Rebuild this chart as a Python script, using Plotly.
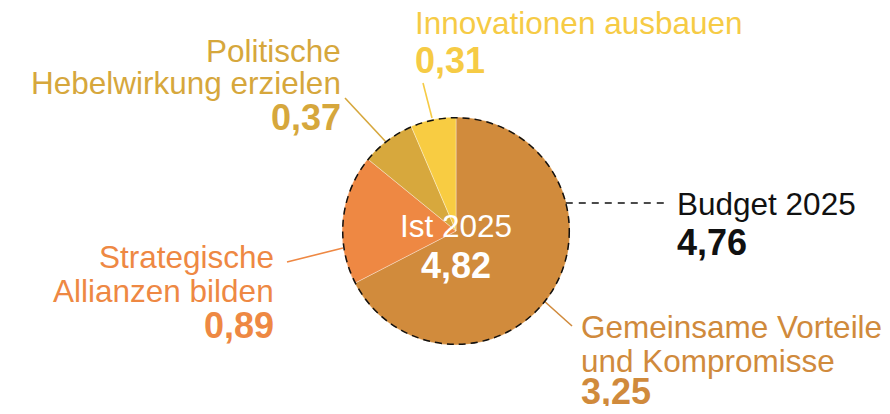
import math
import plotly.graph_objects as go

# ---- data ----
categories = ["Gemeinsame Vorteile<br>und Kompromisse", "Strategische<br>Allianzen bilden",
              "Politische<br>Hebelwirkung erzielen", "Innovationen ausbauen"]
values = [3.25, 0.89, 0.37, 0.31]
value_labels = ["3,25", "0,89", "0,37", "0,31"]
colors = ["#D18B3C", "#EE8843", "#D7A83D", "#F8CC42"]
text_colors = ["#D08A3C", "#EE8843", "#D6A73C", "#F6CB45"]
ist_label = "Ist 2025"
ist_value_label = "4,82"
budget_label = "Budget 2025"
budget_value = 4.76
budget_value_label = "4,76"

# page has an 8px body margin: figure sized to fit the 890x414 window
OX, OY = 8, 8
W, H = 882, 398
CX, CY, R = 456, 231, 114          # in window pixels
LABEL_FS = 31.5
VALUE_FS = 36
FONT = "Liberation Sans, Arial, Helvetica, sans-serif"


def px(x):
    return (x - OX) / W


def py(y):
    return 1 - (y - OY) / H


fig = go.Figure()
fig.add_trace(go.Pie(
    labels=[c.replace("<br>", " ") for c in categories],
    values=values,
    sort=False,
    direction="clockwise",
    rotation=0,
    marker=dict(colors=colors, line=dict(color="rgba(255,255,255,0.35)", width=1)),
    textinfo="none",
    textposition="none",
    hoverinfo="label+value",
    showlegend=False,
    domain=dict(x=[px(CX - R), px(CX + R)], y=[py(CY + R), py(CY - R)]),
))

annotations = []
shapes = []


def text_at(txt, x, baseline, fs, color, anchor, bold=False):
    t = f"<b>{txt}</b>" if bold else txt
    annotations.append(dict(
        text=t, x=px(x), y=py(baseline - 0.3465 * fs), xref="paper", yref="paper",
        xanchor=anchor, yanchor="middle", showarrow=False, borderpad=0,
        font=dict(family=FONT, size=fs, color=color),
    ))


def line(x0, y0, x1, y1, color, dash=None, width=1.6):
    ln = dict(color=color, width=width)
    if dash:
        ln["dash"] = dash
    shapes.append(dict(type="line", xref="paper", yref="paper",
                       x0=px(x0), y0=py(y0), x1=px(x1), y1=py(y1), line=ln))


# label layout: (x, anchor, baselines of lines, value baseline, leader line)
layout_spec = [
    (580, "left", [338, 372], 404, (543, 300, 572, 326)),
    (275, "right", [268, 302], 338, (287, 262, 343, 248)),
    (342, "right", [62, 94], 130, (345, 98, 386, 142)),
    (414, "left", [34], 73, (423, 83, 432, 118)),
]

for cat, vl, tc, (x, anc, bls, vbl, ld) in zip(categories, value_labels, text_colors, layout_spec):
    for ln_txt, bl in zip(cat.split("<br>"), bls):
        text_at(ln_txt, x, bl, LABEL_FS, tc, anc)
    text_at(vl, x, vbl, VALUE_FS, tc, anc, bold=True)
    line(*ld, color=tc)

# center text
text_at(ist_label, CX, 237, LABEL_FS, "white", "center")
text_at(ist_value_label, CX, 278, VALUE_FS, "white", "center", bold=True)

# budget dashed circle (area-proportional to budget vs. actual)
ist_total = sum(values)
rb = R * math.sqrt(budget_value / ist_total)
shapes.append(dict(type="circle", xref="paper", yref="paper",
                   x0=px(CX - rb), x1=px(CX + rb), y0=py(CY + rb), y1=py(CY - rb),
                   line=dict(color="#111111", width=1.5, dash="7px,5px")))
by = 203
bx0 = CX + math.sqrt(rb ** 2 - (CY - by) ** 2)
line(bx0, by, 668, by, "#111111", dash="7px,6px", width=1.3)
text_at(budget_label, 676, 215, LABEL_FS, "#111111", "left")
text_at(budget_value_label, 676, 255, VALUE_FS, "#111111", "left", bold=True)

fig.update_layout(
    width=W, height=H,
    margin=dict(l=0, r=0, t=0, b=0),
    paper_bgcolor="white", plot_bgcolor="white",
    annotations=annotations, shapes=shapes,
    showlegend=False,
)

fig.write_html("out.html")
